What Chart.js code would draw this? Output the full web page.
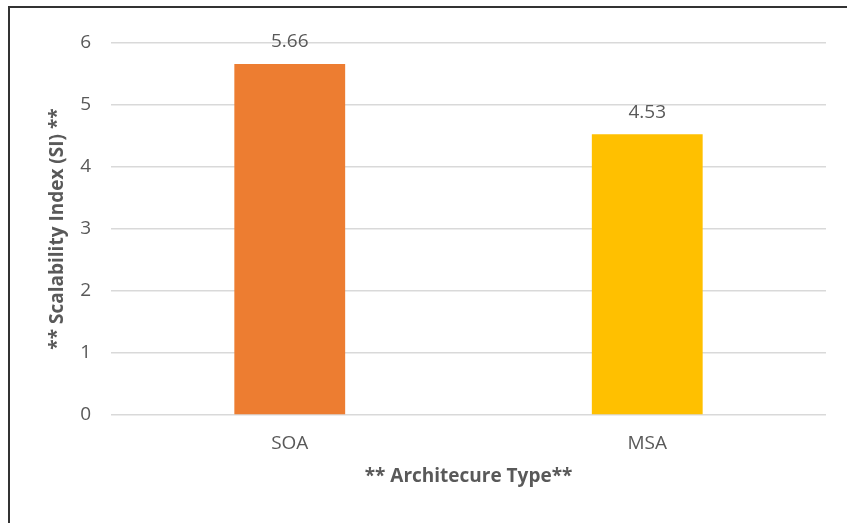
<!DOCTYPE html>
<html>
<head>
<meta charset="utf-8">
<script src="https://cdn.jsdelivr.net/npm/chart.js"></script>
<style>
  html, body { margin: 0; padding: 0; background: #fff; }
  #wrap { width: 847px; height: 523px; position: relative; }
</style>
</head>
<body>
<div id="wrap"><canvas id="chart"></canvas></div>
<script>
// data
const categories = ["SOA", "MSA"];
const siValues = [5.66, 4.53];
const barColors = ["#ED7D31", "#FFC000"];

const textGray = "#595959";
const fontFamily = "'Open Sans', Lato, sans-serif";

// frame lines (top + left) like the cropped screenshot
const framePlugin = {
  id: "frame",
  beforeDraw(chart) {
    const ctx = chart.ctx;
    ctx.save();
    ctx.fillStyle = "#fff";
    ctx.fillRect(0, 0, chart.width, chart.height);
    ctx.strokeStyle = "#333";
    ctx.lineWidth = 2;
    ctx.beginPath();
    ctx.moveTo(9, chart.height);
    ctx.lineTo(9, 7);
    ctx.lineTo(chart.width, 7);
    ctx.stroke();
    ctx.restore();
  }
};

// value labels over the bars
const valueLabels = {
  id: "valueLabels",
  afterDatasetsDraw(chart) {
    const ctx = chart.ctx;
    const meta = chart.getDatasetMeta(0);
    ctx.save();
    ctx.font = "19px " + fontFamily;
    ctx.fillStyle = textGray;
    ctx.textAlign = "center";
    ctx.textBaseline = "middle";
    meta.data.forEach((bar, i) => {
      ctx.fillText(siValues[i].toFixed(2), bar.x, bar.y - 22);
    });
    ctx.restore();
  }
};

const ctx = document.getElementById("chart").getContext("2d");
new Chart(ctx, {
  type: "bar",
  data: {
    labels: categories,
    datasets: [{
      label: "Scalability Index",
      data: siValues,
      backgroundColor: barColors,
      barPercentage: 0.31,
      categoryPercentage: 1
    }]
  },
  options: {
    responsive: true,
    maintainAspectRatio: false,
    animation: false,
    layout: { padding: { left: 46, top: 43, right: 21, bottom: 35 } },
    plugins: {
      legend: { display: false },
      tooltip: { enabled: false }
    },
    scales: {
      x: {
        grid: { display: false, drawTicks: false },
        border: { display: false },
        ticks: { color: textGray, font: { family: fontFamily, size: 19 }, padding: 17 },
        title: {
          display: true,
          text: "** Architecure Type**",
          color: textGray,
          font: { family: fontFamily, size: 19, weight: "bold" },
          padding: 0
        },
        afterFit(scale) { scale.height = 73; }
      },
      y: {
        min: 0,
        max: 6,
        grid: { color: "#D9D9D9", lineWidth: 1.5, drawTicks: false },
        border: { display: false },
        ticks: { stepSize: 1, color: textGray, font: { family: fontFamily, size: 19 }, padding: 20 },
        title: {
          display: true,
          text: "** Scalability Index (SI) **",
          color: textGray,
          font: { family: fontFamily, size: 19, weight: "bold" },
          padding: 0
        },
        afterFit(scale) { scale.width = 65; }
      }
    }
  },
  plugins: [framePlugin, valueLabels]
});
</script>
</body>
</html>
